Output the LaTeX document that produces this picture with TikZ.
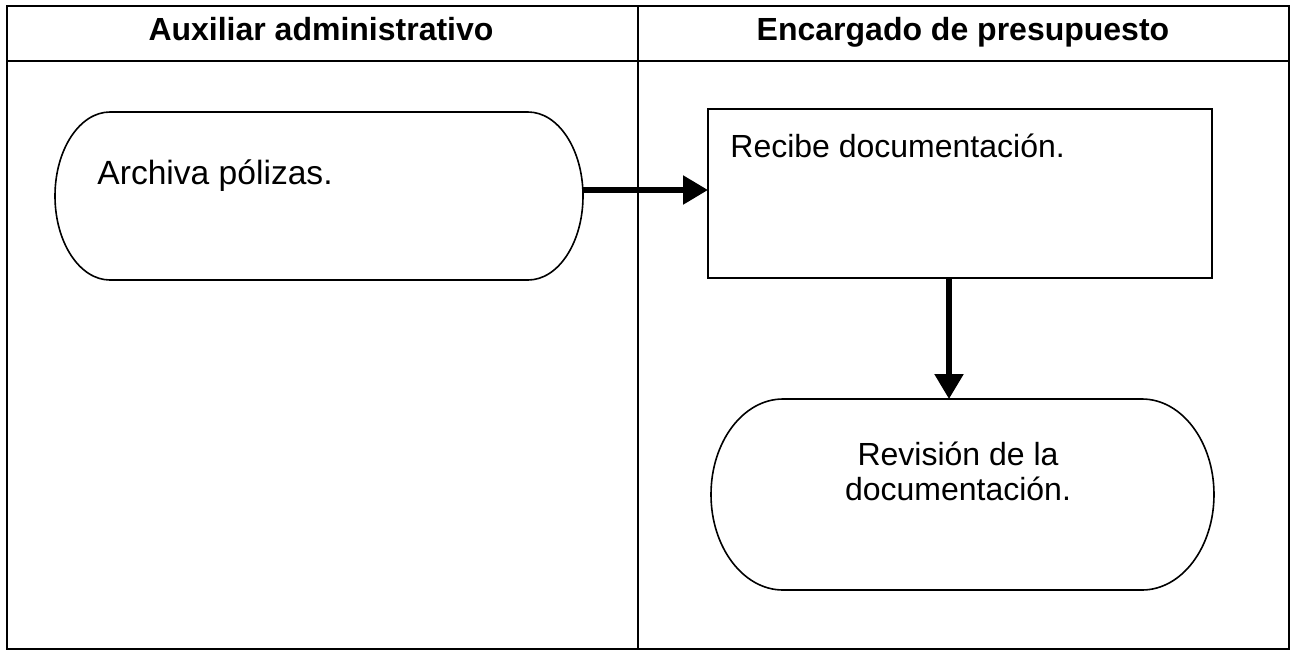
\documentclass[tikz,border=0pt]{standalone}
\usepackage{fontspec}
\setmainfont{Liberation Sans}
\usetikzlibrary{arrows.meta}
\tikzset{
  tbl/.style={line width=1.1pt},
  divline/.style={line width=0.7pt},
  shp/.style={draw=none, inner sep=0pt, outer sep=0pt, rectangle},
  boxnode/.style={draw, line width=0.8pt, inner sep=0pt, outer sep=0pt, rectangle},
  outline/.style={line width=0.8pt},
  flow/.style={line width=2.7pt, -{Triangle[length=12.5pt,width=14pt]}},
  head/.style={font=\fontsize{16}{19}\selectfont\bfseries, inner sep=0pt, anchor=base},
  body/.style={font=\fontsize{16}{17.5}\selectfont, inner sep=0pt},
}
\newcommand\stadiumpath[3]{%
  \draw[outline] ([xshift=#2]#1.north west) -- ([xshift=-#2]#1.north east)
    arc[start angle=90, end angle=-90, x radius=#2, y radius=#3]
    -- ([xshift=#2]#1.south west)
    arc[start angle=270, end angle=90, x radius=#2, y radius=#3] -- cycle;}
\begin{document}
\begin{tikzpicture}[x=0.5pt, y=-0.5pt]
\useasboundingbox (0,0) rectangle (1292,654);
% table
\coordinate (tl) at (7,6);
\coordinate (br) at (1289,649);
\coordinate (hl) at (7,61);
\coordinate (hr) at (1289,61);
\coordinate (dt) at (638,6);
\coordinate (db) at (638,649);
\draw[tbl] (tl) rectangle (br);
\draw[tbl] (hl) -- (hr);
\draw[divline] (dt) -- (db);
\node[head] (h1) at (321,40) {Auxiliar administrativo};
\node[head] (h2) at (963,40) {Encargado de presupuesto};
% nodes
\node[shp, minimum width=264pt, minimum height=84pt] (arch) at (319,196) {};
\stadiumpath{arch}{27.5pt}{42pt}
\node[body, font=\fontsize{16.8}{18}\selectfont, anchor=base west] (archt) at (97,184) {Archiva pólizas.};
\node[boxnode, minimum width=252pt, minimum height=84.5pt] (rec) at (960,193.5) {};
\node[body, anchor=base west] (rect) at (730,157) {Recibe documentación.};
\node[shp, minimum width=251.5pt, minimum height=95.5pt] (rev) at (962.5,494.5) {};
\stadiumpath{rev}{36pt}{47.75pt}
\node[body, align=center, anchor=base] (revt) at (958,500) {Revisión de la\\documentación.};
% connectors
\draw[flow] ([yshift=3pt]arch.east) -- ([yshift=3pt]arch.east -| rec.west);
\draw[flow] ([xshift=-5.5pt]rec.south) -- ([xshift=-5.5pt]rec.south |- rev.north);
\end{tikzpicture}
\end{document}
